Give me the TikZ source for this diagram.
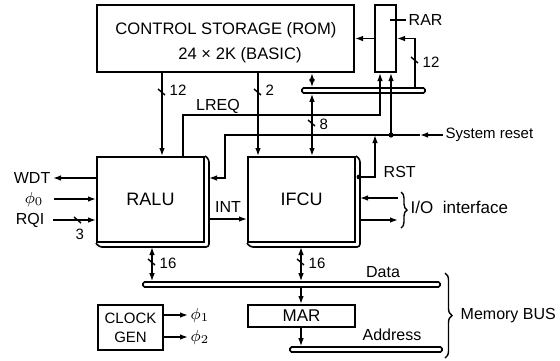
\documentclass[tikz,border=0pt]{standalone}
\usepackage{fontspec}
\setmainfont{Liberation Sans}
\usetikzlibrary{arrows.meta,calc,decorations.pathreplacing}

\tikzset{
  box/.style={draw,line width=1pt,inner sep=0pt,fill=white},
  bar/.style={draw,line width=0.8pt,inner sep=0pt,minimum height=2.5pt,rounded corners=0.8pt,fill=white},
  txt/.style={inner sep=1pt,font=\fontsize{8}{9.5}\selectfont},
  num/.style={inner sep=1pt,font=\fontsize{7.5}{9}\selectfont},
}

% bus width tick with its label
\newcommand{\wtick}[4]{%
  \draw ($(#1)+(-4,-3)$) -- ($(#1)+(3,3)$);
  \node[num,anchor=west] (#2) at ($(#1)+#4$) {#3};}

% offset outline on the right and bottom of a box
\newcommand{\shadowof}[1]{%
  \draw[line width=0.8pt,rounded corners=1.5pt] (#1.north east) -- ++(4,3)
    -- ($(#1.south east)+(4,4)$) -- ($(#1.south west)+(3,4)$) -- (#1.south west);}

\begin{document}
\begin{tikzpicture}[x=0.5pt,y=-0.5pt,>={Latex[length=4pt,width=2.8pt]},line width=0.7pt]
  \useasboundingbox (0,0) rectangle (560,360);
  % boxes
  \node[box,minimum width=128.5pt,minimum height=33.5pt] (rom) at (225.5,38.5) {};
  \node[txt,font=\fontsize{8.3}{10}\selectfont] (romA) at (226,30) {CONTROL STORAGE (ROM)};
  \node[txt,font=\fontsize{8.3}{10}\selectfont] (romB) at (240,55) {24 × 2K (BASIC)};
  \node[box,minimum width=10.5pt,minimum height=33.5pt] (rar) at (385.5,38.5) {};
  \node[box,minimum width=53.5pt,minimum height=42.5pt,font=\fontsize{9}{10}\selectfont] (ralu) at (150.5,199.5) {RALU};
  \node[box,minimum width=53.5pt,minimum height=42.5pt,font=\fontsize{9}{10}\selectfont] (ifcu) at (301.5,199.5) {IFCU};
  \shadowof{ralu}
  \shadowof{ifcu}
  \node[box,minimum width=53.5pt,minimum height=11pt,font=\fontsize{8.5}{10}\selectfont] (mar) at (301.5,316) {MAR};
  \node[box,minimum width=32.5pt,minimum height=22.5pt,align=center,font=\fontsize{7.5}{9.5}\selectfont] (clk) at (130.5,327.5) {CLOCK\\GEN};
  % buses
  \node[bar,minimum width=61.5pt] (rombus) at (363.5,90.5) {};
  \node[bar,minimum width=148.5pt] (databus) at (291.5,284.5) {};
  \node[bar,minimum width=76pt] (addrbus) at (366,349.5) {};
  % x positions of the vertical lines
  \coordinate (x12) at (162,0);
  \coordinate (xlq) at (183,0);
  \coordinate (x2) at (258,0);
  \coordinate (x8) at (312,0);
  \coordinate (xra) at (380,0);
  \coordinate (xrb) at (391,0);
  \coordinate (xr12) at (415,0);
  \coordinate (xda) at (152,0);
  \coordinate (xdb) at (301,0);
  % control storage lines
  \draw[->] (rom.south -| x12) -- (ralu.north -| x12);
  \draw[->] (rom.south -| x2) -- (ifcu.north -| x2);
  \draw[<->] (rom.south -| x8) -- (rombus.north -| x8);
  \draw[<->] (rombus.south -| x8) -- (ifcu.north -| x8);
  \draw[->] (rar.west) -- (rom.east);
  \draw[->] (rombus.north -| xr12) |- (rar.east);
  \node[txt,anchor=west] (rarl) at (406,20) {RAR};
  \draw (rarl.west) -- ++(-16,0);
  % LREQ
  \coordinate (lqc) at (380,115);
  \draw[->] (ralu.north -| xlq) |- (lqc) -- (rar.south -| xra);
  \node[txt] (lreq) at (218,106) {LREQ};
  % system reset
  \node[txt,anchor=west,font=\fontsize{7.5}{9}\selectfont] (sysres) at (443,135) {System reset};
  \coordinate (rsin) at (420,135);
  \coordinate (rsdot) at (391,135);
  \coordinate (rsturn) at (225,178);
  \draw[->] (sysres.west) -- (rsin);
  \draw[->] (rsin) -| (rsturn) -- ($(rsturn -| ralu.east)+(4,0)$);
  \fill (rsdot) circle[radius=1.3pt];
  \draw[->] (rsdot) -- (rar.south -| xrb);
  % RST
  \coordinate (rsto) at (359,177);
  \coordinate (rstup) at (375,135);
  \draw[->] (rsto) -| (rstup);
  \fill (rsto) circle[radius=1.2pt];
  \node[txt,anchor=west] (rst) at (381,172) {RST};
  % left signals
  \node[txt,anchor=east] (wdt) at (53,178) {WDT};
  \node[txt,anchor=east] (phi0) at (46,199) {$\phi_0$};
  \node[txt,anchor=east] (rqi) at (47,220) {RQI};
  \draw[->] (ralu.west |- wdt) -- (wdt.east);
  \draw[->] ([xshift=4pt]phi0.east) -- (ralu.west |- phi0);
  \draw[->] ([xshift=3pt]rqi.east) -- (ralu.west |- rqi);
  % INT
  \coordinate (yint) at (0,219);
  \draw[->] ($(ralu.east |- yint)+(4,0)$) -- (ifcu.west |- yint);
  \node[txt] (int) at (228,207) {INT};
  % I/O interface
  \coordinate (ioa) at (398,198);
  \coordinate (iob) at (398,220);
  \draw[->] (ioa) -- ($(ifcu.east |- ioa)+(4,0)$);
  \draw[->] ($(ifcu.east |- iob)+(4,0)$) -- (iob);
  \draw[decorate,decoration={brace,amplitude=3pt}] (401,192) -- (401,228);
  \node[txt,anchor=west,font=\fontsize{8.5}{10}\selectfont] (io) at (408,207) {I/O\ \ interface};
  % memory bus
  \draw[<->] ($(ralu.south -| xda)+(0,4)$) -- (databus.north -| xda);
  \draw[<->] ($(ifcu.south -| xdb)+(0,4)$) -- (databus.north -| xdb);
  \draw[->] (databus.south -| xdb) -- (mar.north -| xdb);
  \draw[->] (mar.south -| xdb) -- (addrbus.north -| xdb);
  \node[txt] (datal) at (383,272) {Data};
  \node[txt] (addrl) at (392,335) {Address};
  \draw[decorate,decoration={brace,amplitude=3.5pt}] (445,273) -- (445,358);
  \node[txt,anchor=west] (membus) at (458,316) {Memory BUS};
  % clock
  \node[txt,anchor=west] (phi1) at (188,315) {$\phi_1$};
  \node[txt,anchor=west] (phi2) at (188,337) {$\phi_2$};
  \draw[->] (clk.east |- phi1) -- (phi1.west);
  \draw[->] (clk.east |- phi2) -- (phi2.west);
  % bus widths
  \coordinate (t12) at (162,92);
  \coordinate (t2) at (258,92);
  \coordinate (t8) at (312,123);
  \coordinate (tr12) at (415,60);
  \coordinate (t16a) at (152,262);
  \coordinate (t16b) at (301,262);
  \coordinate (t3) at (78,220);
  \wtick{t12}{w12}{12}{(5,-2)}
  \wtick{t2}{w2}{2}{(5,-2)}
  \wtick{t8}{w8}{8}{(5,1)}
  \wtick{tr12}{wr12}{12}{(5,2)}
  \wtick{t16a}{w16a}{16}{(5,1)}
  \wtick{t16b}{w16b}{16}{(5,1)}
  \wtick{t3}{w3}{3}{(-5,14)}
\end{tikzpicture}
\end{document}
